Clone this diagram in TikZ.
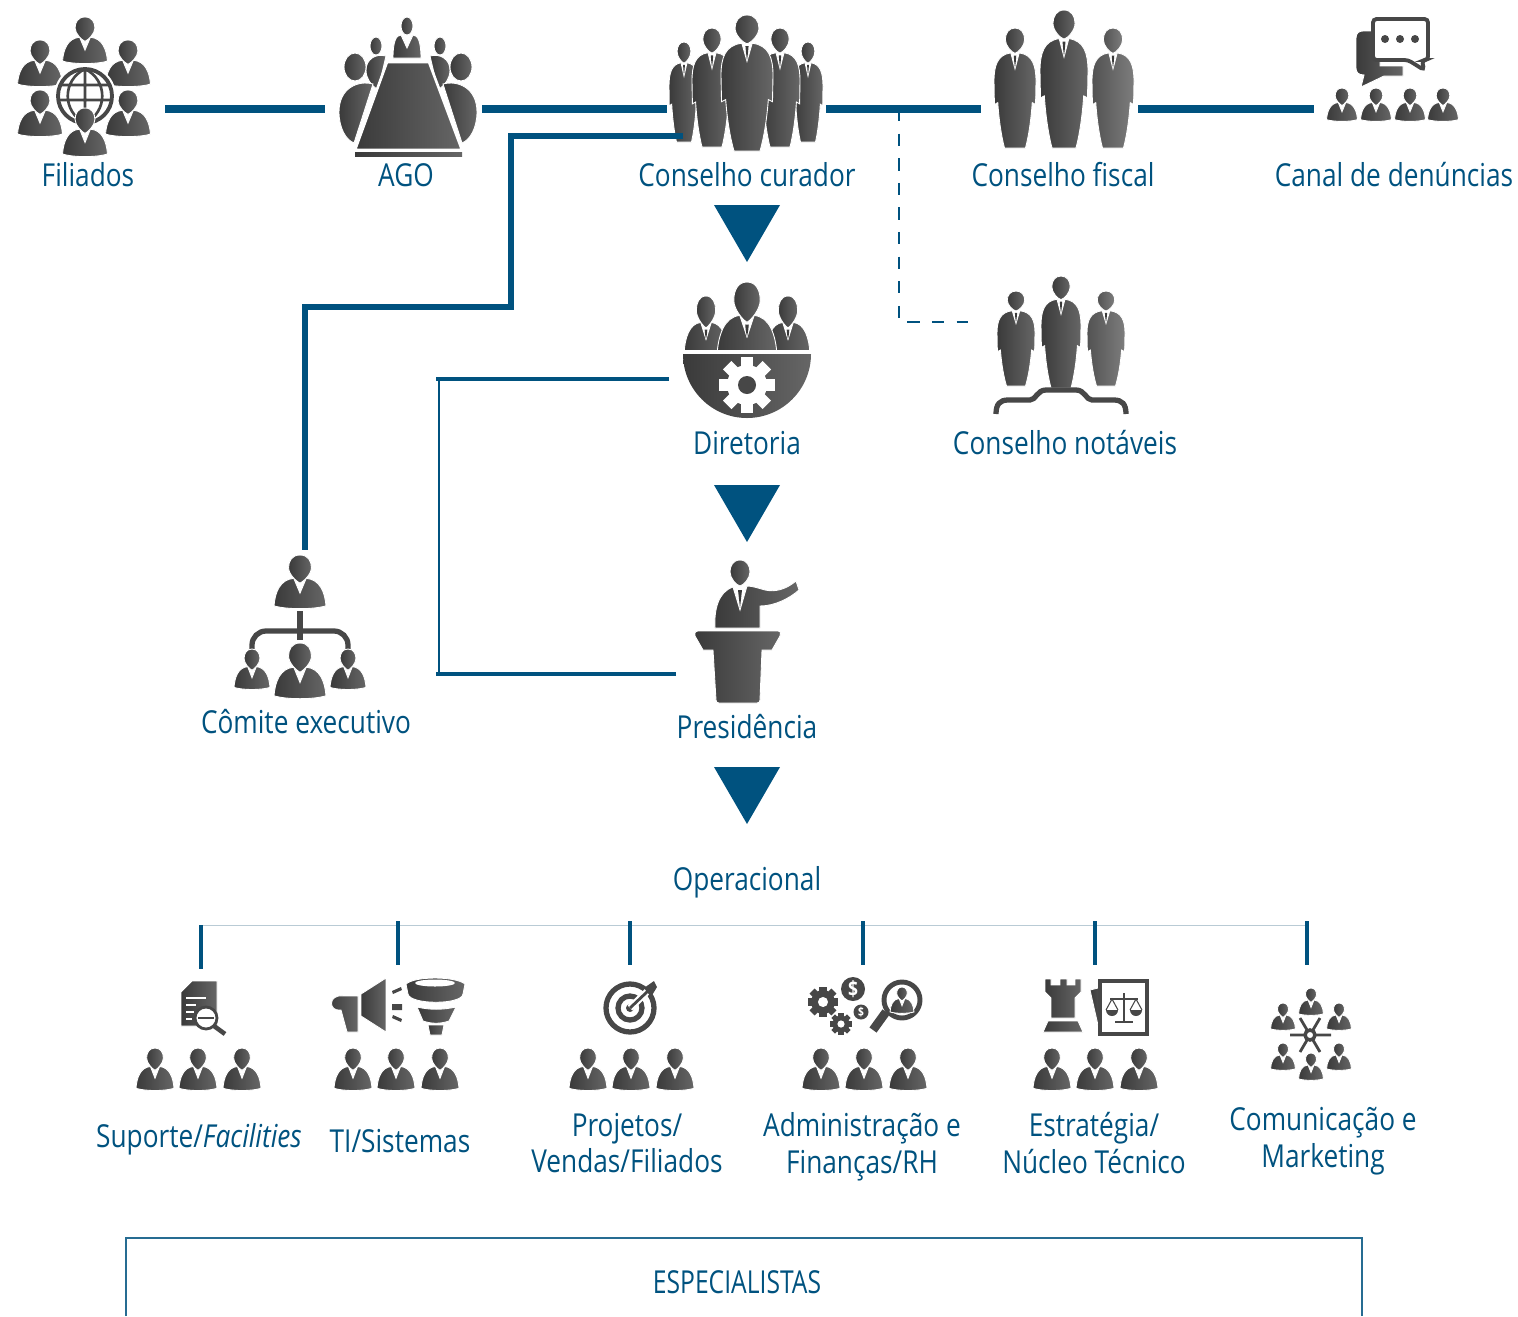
\documentclass[tikz,border=0pt]{standalone}
\usepackage{fontspec}
\setmainfont{Open Sans}[FakeStretch=0.83]
\definecolor{azul}{HTML}{00527F}
\definecolor{icondark}{HTML}{3A3A3A}
\definecolor{iconlight}{HTML}{666666}
\newcommand{\bustshape}{
  \path[icon] (-12,44) .. controls (-38,46) and (-48,70) .. (-50,96) .. controls (-25,103) and (25,103) .. (50,96) .. controls (48,70) and (38,46) .. (12,44) -- (0,72) -- cycle;
  \path[icon] (0,0) .. controls (-16,0) and (-22,12) .. (-22,24) .. controls (-22,36) and (-7,50) .. (0,53) .. controls (7,50) and (22,36) .. (22,24) .. controls (22,12) and (16,0) .. (0,0) -- cycle;
}
\tikzset{
  icon/.style={left color=icondark,right color=iconlight,draw=white,line width=0.5pt},
  pale/.style={icon/.style={left color=icondark!45!iconlight,right color=iconlight!85!white,draw=white,line width=0.5pt}},
  bw/.style 2 args={xscale=#1/100,yscale=#2/100},
  sw/.style 2 args={xscale=#1/100,yscale=#2/270},
  lab/.style={text=azul,font=\fontsize{18}{21}\selectfont,align=center,inner sep=0pt},
  mainline/.style={azul,line width=4pt},
  midline/.style={azul,line width=3pt},
  tick/.style={azul,line width=2.8pt},
  bust/.pic={\bustshape},
  tiebust/.pic={
    \bustshape
    \fill[white] (-9,50) -- (0,74) -- (9,50) -- (0,56) -- cycle;
    \fill[icondark] (-3,56) -- (3,56) -- (2,64) -- (0,72) -- (-2,64) -- cycle;
  },
  suit/.pic={
    \path[icon] (-10,56) .. controls (-42,60) and (-50,85) .. (-50,120) -- (-49,172) -- (-41,168) .. controls (-38,210) and (-32,245) .. (-25,270) -- (25,270) .. controls (32,245) and (38,210) .. (41,168) -- (49,172) -- (50,120) .. controls (50,85) and (42,60) .. (10,56) -- (0,92) -- cycle;
    \path[icon] (0,0) .. controls (-15,0) and (-23,12) .. (-23,26) .. controls (-23,40) and (-8,55) .. (0,57) .. controls (8,55) and (23,40) .. (23,26) .. controls (23,12) and (15,0) .. (0,0) -- cycle;
    \fill[icondark] (-3,62) -- (3,62) -- (2,74) -- (0,90) -- (-2,74) -- cycle;
  },
  trio/.pic={
    \foreach \dx in {-43,0,44} \pic[bw={38}{42}] at (\dx,0) {bust};
  },
  gear/.pic={
    \foreach \a in {0,45,...,315} \fill[rotate=\a,icondark!70!iconlight] (-2.6,-11) rectangle (2.6,0);
    \fill[icondark!70!iconlight] (0,0) circle (8.5);
    \fill[white] (0,0) circle (3.6);
  }
}
\begin{document}
\begin{tikzpicture}[x=0.02cm,y=-0.02cm]
\useasboundingbox (0,0) rectangle (1518,1316);

% Filiados
\foreach \px/\py in {85/17,40/40,128/40,40/90,128/90} \pic[bw={45}{46}] at (\px,\py) {bust};
\fill[white] (85,96) circle (31);
\draw[icondark!70!iconlight,line width=2.2pt] (85,96) circle (27);
\draw[icondark!70!iconlight,line width=1.5pt] (85,69) -- (85,123) (60,85) -- (110,85) (58,100) -- (112,100) (85,69) .. controls (62,80) and (62,112) .. (85,123) (85,69) .. controls (108,80) and (108,112) .. (85,123);
\pic[bw={45}{48}] at (85,108) {bust};

% AGO
\foreach \s in {-1,1} {
  \begin{scope}[shift={(408,0)},xscale=\s]
    \path[icon] (-32,46) ellipse (6 and 9);
    \path[icon] (-22,56) .. controls (-33,53) and (-42,60) .. (-42,70) .. controls (-42,78) and (-38,84) .. (-30,90) -- cycle;
    \path[icon] (-35,84) .. controls (-50,80) and (-69,88) .. (-69,112) .. controls (-69,128) and (-62,140) .. (-54,143) -- cycle;
    \path[icon] (-53,67) ellipse (11 and 14);
  \end{scope}
}
\path[icon] (407,26) ellipse (6 and 9);
\path[icon] (401,35) .. controls (396,35) and (393,42) .. (393,58) -- (421,58) .. controls (421,42) and (418,35) .. (413,35) -- (407,48) -- cycle;
\path[icon,line width=1.5pt] (387,62) -- (429,62) -- (462,150) -- (355,150) -- cycle;
\path[icon,draw=none] (355,152) rectangle (462,156);

% Conselho curador
\pic[sw={30}{100}] at (684,42) {suit};
\pic[sw={30}{100}] at (808,42) {suit};
\pic[sw={40}{119}] at (712,28) {suit};
\pic[sw={40}{119}] at (780,28) {suit};
\pic[sw={52}{136}] at (747,15) {suit};

% Conselho fiscal
\pic[sw={42}{120}] at (1015,28) {suit};
\pic[pale,sw={42}{120}] at (1113,28) {suit};
\pic[sw={48}{138}] at (1064,10) {suit};

% Canal de denuncias
\path[icon] (1363,31) -- (1380,31) -- (1380,66) -- (1403,66) -- (1403,76) -- (1384,76) -- (1361,87) -- (1364,75) .. controls (1358,75) and (1356,72) .. (1356,68) -- (1356,38) .. controls (1356,33) and (1359,31) .. (1363,31) -- cycle;
\draw[icondark!70!iconlight,fill=white,line width=2.2pt,rounded corners=2pt] (1373,19) -- (1428,19) -- (1428,60) -- (1422,60) -- (1424,70) -- (1408,60) -- (1373,60) -- cycle;
\foreach \px in {1385,1400,1415} \fill[icondark!70!iconlight] (\px,39) circle (4);
\foreach \px in {1342,1376,1410,1443} \pic[bw={31}{33}] at (\px,88) {bust};

% Diretoria
\pic[bw={44}{60}] at (706,296) {tiebust};
\pic[bw={44}{60}] at (788,296) {tiebust};
\pic[bw={60}{76}] at (747,282) {tiebust};
\fill[white] (680,350) rectangle (814,370);
\path[icon,draw=none] (683,354) -- (811,354) arc (0:180:64) -- cycle;
\foreach \a in {0,45,...,315} \fill[rotate around={\a:(747,385)},white] (741,357) rectangle (753,375);
\fill[white] (747,385) circle (20);
\fill[icondark!70!iconlight] (747,385) circle (9);

% Conselho notaveis
\pic[sw={38}{95}] at (1016,291) {suit};
\pic[pale,sw={38}{95}] at (1106,291) {suit};
\pic[sw={40}{112}] at (1061,276) {suit};
\draw[icondark!70!iconlight,line width=3pt] (996,414) .. controls (996,404) and (1000,400) .. (1008,400) -- (1030,400) .. controls (1036,400) and (1037,390) .. (1046,390) -- (1076,390) .. controls (1085,390) and (1086,400) .. (1092,400) -- (1114,400) .. controls (1122,400) and (1126,404) .. (1126,414);

% Comite executivo
\pic[bw={52}{53}] at (300,555) {bust};
\draw[icondark!70!iconlight,line width=3.4pt] (300,611) -- (300,640);
\draw[icondark!70!iconlight,line width=3pt,rounded corners=8pt] (252,649) -- (252,631) -- (348,631) -- (348,649);
\pic[bw={36}{40}] at (252,649) {bust};
\pic[bw={36}{40}] at (348,649) {bust};
\pic[bw={52}{55}] at (300,643) {bust};

% Presidencia
\path[icon] (740,560) .. controls (733,560) and (730,566) .. (730,572) .. controls (730,578) and (736,585) .. (740,586) .. controls (744,585) and (750,578) .. (750,572) .. controls (750,566) and (747,560) .. (740,560) -- cycle;
\path[icon] (733,587) .. controls (718,592) and (714,610) .. (715,628) -- (760,628) -- (760,606) .. controls (775,606) and (790,598) .. (799,590) -- (796,581) .. controls (785,590) and (775,592) .. (765,590) .. controls (758,588) and (752,586) .. (747,586) -- (740,610) -- cycle;
\fill[icondark] (738,590) -- (742,590) -- (740,608) -- cycle;
\path[icon] (698,631) -- (778,631) .. controls (781,631) and (781,634) .. (780,636) -- (772,650) -- (762,650) -- (760,700) .. controls (760,702) and (759,703) .. (757,703) -- (719,703) .. controls (717,703) and (716,702) .. (716,700) -- (713,650) -- (703,650) -- (695,636) .. controls (694,634) and (695,631) .. (698,631) -- cycle;

% Operacional icons
\pic at (198,1048) {trio};
\pic at (396,1048) {trio};
\pic at (631,1048) {trio};
\pic at (864,1048) {trio};
\pic at (1095,1048) {trio};

\path[icon] (192,981) -- (217,981) -- (217,1026) -- (181,1026) -- (181,992) -- cycle;
\draw[white,line width=1.5pt] (186,998) -- (206,998) (186,1005) -- (196,1005) (186,1012) -- (194,1012) (186,1019) -- (192,1019);
\draw[icondark!70!iconlight,fill=white,line width=1.6pt] (206,1018) circle (11);
\draw[icondark!70!iconlight,line width=2.6pt] (214,1026) -- (225,1034);
\draw[icondark!70!iconlight,line width=1.5pt] (198,1018) -- (214,1018);

\path[icon] (343,996) -- (358,996) -- (358,1032) -- (347,1032) -- (341,1010) .. controls (328,1012) and (328,994) .. (343,996) -- cycle;
\path[icon] (361,994) -- (386,978) -- (386,1032) -- (361,1016) -- cycle;
\fill[icondark!70!iconlight] (392,991) -- (401,987) -- (402,990) -- (393,994) -- cycle (392,1004) rectangle (402,1010) (392,1018) -- (393,1015) -- (402,1019) -- (401,1022) -- cycle;
\path[icon] (406,984) .. controls (415,976) and (455,976) .. (465,984) -- (463,994) .. controls (462,1005) and (410,1005) .. (408,994) -- cycle;
\path[fill=white] (435,983) ellipse (20 and 3.5);
\path[icon] (417,1007) .. controls (430,1010) and (442,1010) .. (456,1007) -- (449,1021) .. controls (440,1024) and (432,1024) .. (423,1021) -- cycle;
\path[icon] (428,1025) -- (444,1025) -- (442,1035) -- (430,1035) -- cycle;

\draw[icondark!70!iconlight,line width=3pt] (630,1008) circle (24);
\draw[icondark!70!iconlight,line width=3pt] (630,1008) circle (12);
\fill[icondark!70!iconlight] (630,1008) circle (4);
\draw[white,line width=4pt] (630,1008) -- (652,987);
\draw[icondark!70!iconlight,line width=1.6pt] (630,1008) -- (648,991);
\fill[icondark!70!iconlight] (644,988) -- (654,981) -- (657,987) -- (651,997) -- cycle;

\pic at (823,1002) [scale=1.4] {gear};
\pic at (841,1024) [scale=1.0] {gear};
\fill[icondark!70!iconlight] (853,989) circle (12);
\fill[icondark!70!iconlight] (861,1012) circle (7.5);
\node (moedaa) at (853,989) [text=white,inner sep=0pt,font=\fontsize{12}{12}\selectfont\bfseries] {\$};
\node (moedab) at (861,1012) [text=white,inner sep=0pt,font=\fontsize{7}{7}\selectfont\bfseries] {\$};
\draw[icondark!70!iconlight,line width=2.8pt] (902,1000) circle (18);
\draw[icondark!70!iconlight,line width=5pt] (886,1012) -- (873,1030);
\pic[bw={24}{26}] at (902,987) {bust};

\path[icon] (1045,979) -- (1051,979) -- (1051,985) -- (1060,985) -- (1060,979) -- (1067,979) -- (1067,985) -- (1075,985) -- (1075,979) -- (1081,979) -- (1081,992) -- (1075,998) -- (1075,1018) -- (1051,1018) -- (1051,998) -- (1045,992) -- cycle;
\path[icon] (1048,1021) -- (1078,1021) -- (1083,1032) -- (1043,1032) -- cycle;
\path[icon] (1090,990) -- (1110,985) -- (1110,1034) -- (1100,1034) -- cycle;
\draw[icondark!70!iconlight,fill=white,line width=1.8pt] (1100,981) rectangle (1147,1034);
\draw[icondark!70!iconlight,line width=1.2pt] (1124,993) -- (1124,1021) (1115,1022) -- (1133,1022) (1110,999) -- (1138,999);
\fill[icondark!70!iconlight] (1106,1010) arc (180:0:6) -- cycle (1130,1010) arc (180:0:6) -- cycle;
\draw[icondark!70!iconlight,line width=.6pt] (1106,1010) -- (1112,999) -- (1118,1010) (1130,1010) -- (1136,999) -- (1142,1010);

\foreach \px/\py in {1311/988,1283/1003,1339/1003,1283/1043,1339/1043,1311/1053} \pic[bw={25}{27}] at (\px,\py) {bust};
\draw[icondark!70!iconlight,line width=1.6pt] (1290,1035) -- (1331,1035) (1300,1018) -- (1320,1052) (1320,1018) -- (1300,1052);
\draw[icondark!70!iconlight,fill=white,line width=2pt] (1310,1035) circle (5);

% connectors
\coordinate (filiadosR) at (165,109);
\coordinate (agoL) at (325,109);
\coordinate (agoR) at (482,109);
\coordinate (curadorL) at (667,109);
\coordinate (curadorR) at (826,109);
\coordinate (fiscalL) at (981,109);
\coordinate (fiscalR) at (1138,109);
\coordinate (canalL) at (1314,109);
\coordinate (curadorB) at (683,136);
\coordinate (comiteT) at (305,550);
\coordinate (ramo) at (899,109);
\coordinate (notaveisL) at (968,322);
\coordinate (diretoriaL) at (669,379);
\coordinate (presidenciaL) at (676,674);
\draw[mainline] (filiadosR)--(agoL);
\draw[mainline] (agoR)--(curadorL);
\draw[mainline] (curadorR)--(fiscalL);
\draw[mainline] (fiscalR)--(canalL);
\draw[midline,line join=miter] (curadorB)--(511,136)--(511,307)--(305,307)--(comiteT);
\draw[azul,line width=1.2pt,dash pattern=on 7pt off 7pt] (ramo)--(899,322)--(notaveisL);
\draw[azul,line width=2.6pt] (diretoriaL)--(436,379);
\draw[azul,line width=1.6pt] (439,379)--(439,674);
\draw[azul,line width=2pt] (presidenciaL)--(436,674);

% triangles
\foreach \ty in {205,485,767} \fill[azul] (714,\ty)--(780,\ty)--(747,\ty+57)--cycle;

% operacional bar
\coordinate (barL) at (201,925);
\coordinate (barR) at (1307,925);
\draw[azul!25!white!90!gray,line width=0.5pt] (barL)--(barR);
\foreach \tx/\ta/\tb in {201/925/969,398/921/965,630/921/965,863/921/965,1095/921/965,1307/921/965} \draw[tick] (\tx,\ta)--(\tx,\tb);

% box
\coordinate (boxA) at (126,1316);
\coordinate (boxB) at (1362,1316);
\draw[azul!85!white,line width=1.1pt] (boxA)--(126,1238)--(1362,1238)--(boxB);

% labels
\node[lab] (filiados) at (88,175) {Filiados};
\node[lab] (ago) at (406,175) {AGO};
\node[lab] (curador) at (747,175) {Conselho curador};
\node[lab] (fiscal) at (1063,175) {Conselho fiscal};
\node[lab] (canal) at (1394,175) {Canal de denúncias};
\node[lab] (diretoria) at (747,443) {Diretoria};
\node[lab] (notaveis) at (1065,443) {Conselho notáveis};
\node[lab] (comite) at (306,722) {Cômite executivo};
\node[lab] (presidencia) at (747,727) {Presidência};
\node[lab] (operacional) at (747,882) {Operacional};
\node[lab] (suporte) at (199,1139) {Suporte/\textit{Facilities}};
\node[lab] (sistemas) at (400,1141) {TI/Sistemas};
\node[lab] (projetos) at (627,1143) {Projetos/\\Vendas/Filiados};
\node[lab] (financas) at (862,1147) {Administração e\\Finanças/RH};
\node[lab] (estrategia) at (1094,1143) {Estratégia/\\Núcleo Técnico};
\node[lab] (marketing) at (1323,1141) {Comunicação e\\Marketing};
\node[lab,xscale=.94] (especialistas) at (737,1282) {ESPECIALISTAS};
\end{tikzpicture}
\end{document}
